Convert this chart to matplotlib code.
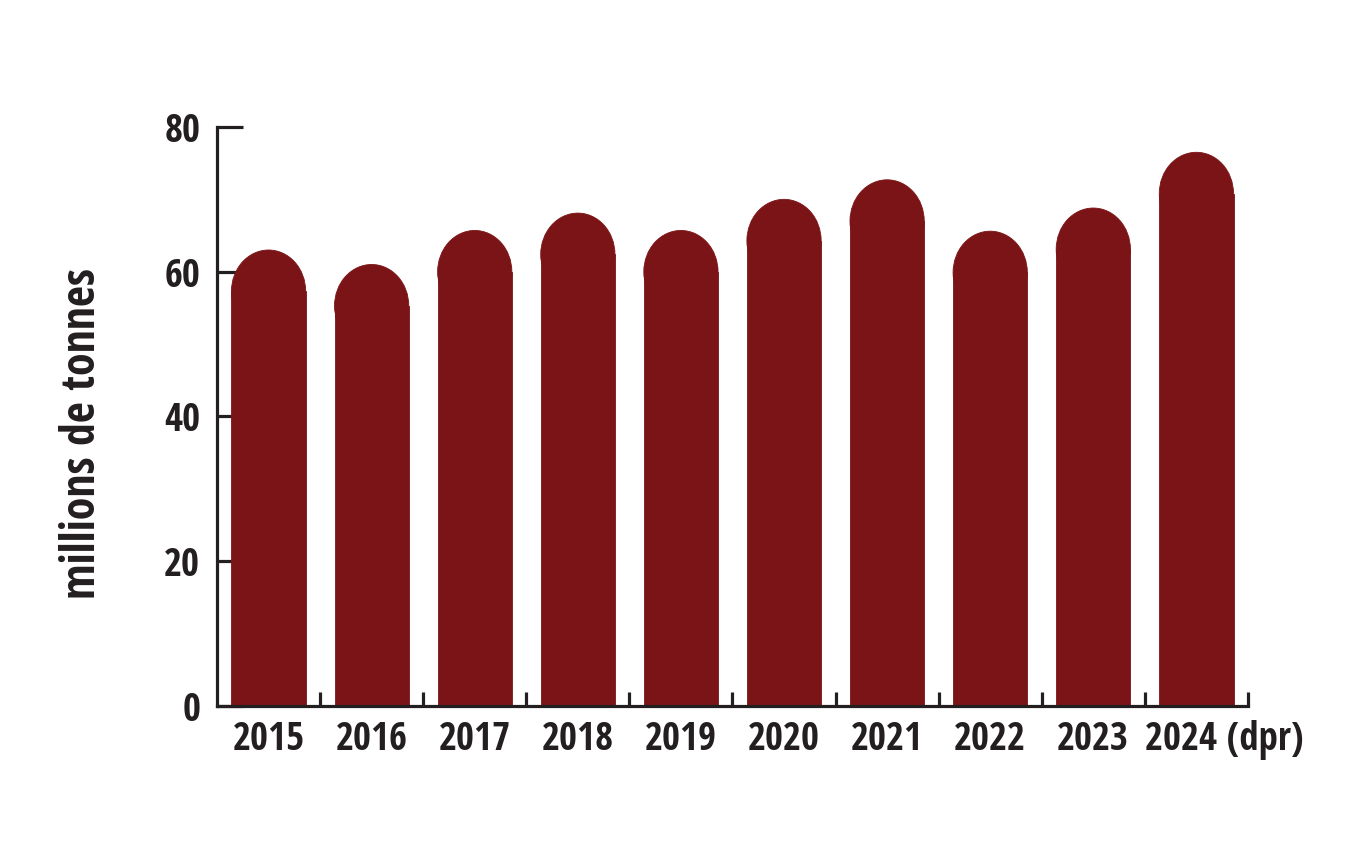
import matplotlib
matplotlib.use("Agg")
from matplotlib import pyplot as plt
from matplotlib.patches import Ellipse

plt.rcParams['font.family'] = ['Open Sans Condensed', 'Fira Sans Extra Condensed', 'DejaVu Sans']
plt.rcParams['font.weight'] = 'bold'

years = ['2015', '2016', '2017', '2018', '2019', '2020', '2021', '2022', '2023', '2024']
last_label = '2024 (dpr)'
values = [63.0, 61.0, 65.7, 68.1, 65.7, 70.0, 72.7, 65.6, 68.8, 76.5]
yticks = [0, 20, 40, 60, 80]

bar_color = '#7b1416'
ink = '#231f20'
bar_w = 0.72
cap = 5.7  # height of the rounded top, in data units

fig = plt.figure(figsize=(13.7, 8.47), dpi=100, facecolor='w')
ax = fig.add_axes([0.1584, 0.1665, 0.7525, 0.6836])

xs = list(range(len(years)))
ax.bar(xs, [v - cap for v in values], width=bar_w, color=bar_color, zorder=3,
       linewidth=0.6, edgecolor=bar_color)
for x, v in zip(xs, values):
    ax.add_patch(Ellipse((x, v - cap), bar_w, 2 * cap, facecolor=bar_color,
                         edgecolor=bar_color, linewidth=0.6, zorder=3))

ax.set_xlim(-0.5, len(years) - 0.5)
ax.set_ylim(0, 80)

for s in ['top', 'right']:
    ax.spines[s].set_visible(False)
for s in ['left', 'bottom']:
    ax.spines[s].set_color(ink)
    ax.spines[s].set_linewidth(2.3)
    ax.spines[s].set_zorder(4)

ax.set_yticks(yticks)
ax.tick_params(axis='y', direction='in', length=19, width=2.3, color=ink,
               labelsize=28, labelcolor=ink, pad=12)

ax.set_xticks(xs)
ax.set_xticklabels(years[:-1] + [''])
ax.set_xticks([x + 0.5 for x in xs], minor=True)
ax.tick_params(axis='x', which='major', length=0, labelsize=28, labelcolor=ink, pad=10)
ax.tick_params(axis='x', which='minor', direction='in', length=10, width=2.3, color=ink)

# last label runs past its bar, as in the original
ax.annotate(last_label, xy=(xs[-1], 0), xytext=(20, -10), textcoords='offset points',
            ha='center', va='top', fontsize=28, color=ink, fontweight='bold')

ax.set_ylabel('millions de tonnes', fontsize=33, color=ink, fontweight='bold')
ax.yaxis.set_label_coords(-0.108, 0.47)

fig.savefig('out.png', dpi=100, facecolor='w')
